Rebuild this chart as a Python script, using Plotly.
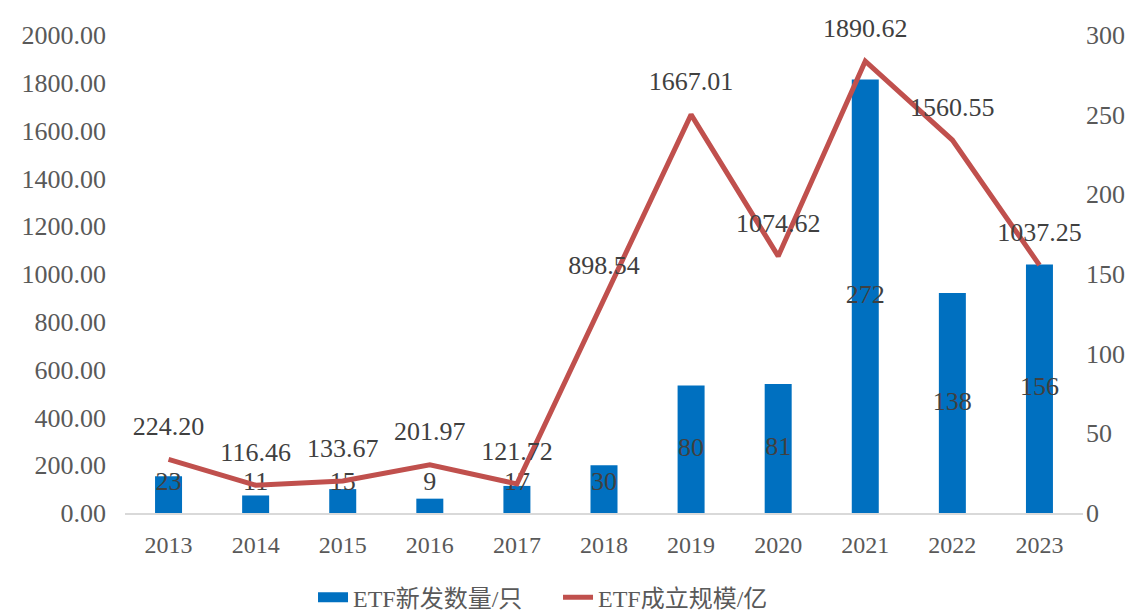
import plotly.graph_objects as go
import numpy as np

years = ["2013", "2014", "2015", "2016", "2017", "2018", "2019", "2020", "2021", "2022", "2023"]
etf_count = [23, 11, 15, 9, 17, 30, 80, 81, 272, 138, 156]
etf_scale = [224.20, 116.46, 133.67, 201.97, 121.72, 898.54, 1667.01, 1074.62, 1890.62, 1560.55, 1037.25]

count_name = "ETF新发数量/只"
scale_name = "ETF成立规模/亿"

FONT = "Liberation Serif, Noto Sans CJK SC, serif"
TXT = "#595959"
BLUE = "#0070C0"
RED = "#C0504D"

fig = go.Figure()

fig.add_trace(go.Bar(
    x=years, y=etf_count, name=count_name, marker=dict(color=BLUE, line=dict(width=0)),
    width=0.31, yaxis="y", showlegend=False,
))

# legend entry for the bars, drawn as a wide block like the original
fig.add_trace(go.Scatter(
    x=[None], y=[None], mode="lines", name=count_name,
    line=dict(color=BLUE, width=13), yaxis="y", showlegend=True,
))

# bar value labels, centred in bars but lifted above the axis for short bars
label_y = np.maximum(np.array(etf_count) / 2.0, 18.5)
fig.add_trace(go.Scatter(
    x=years, y=label_y, mode="text", text=[str(v) for v in etf_count],
    textposition="middle center", textfont=dict(family=FONT, size=26, color="#404040"),
    yaxis="y", showlegend=False, hoverinfo="skip", cliponaxis=False,
))

fig.add_trace(go.Scatter(
    x=years, y=etf_scale, name=scale_name, mode="lines+markers+text",
    line=dict(color=RED, width=5),
    marker=dict(size=27, color="rgba(0,0,0,0)"),
    text=[f"{v:.2f}" for v in etf_scale], textposition="top center",
    textfont=dict(family=FONT, size=26, color="#404040"),
    yaxis="y2", cliponaxis=False,
))

fig.update_layout(
    width=1140, height=603,
    margin=dict(l=117, r=65, t=27, b=98, autoexpand=False),
    paper_bgcolor="white", plot_bgcolor="white",
    font=dict(family=FONT, color=TXT, size=24),
    xaxis=dict(
        type="category", range=[-0.5, 10.5], showgrid=False, showline=True,
        linecolor="#D9D9D9", linewidth=1.5,
        tickfont=dict(family=FONT, size=24, color=TXT), ticks="", ticklabelstandoff=9,
        automargin=False,
    ),
    yaxis=dict(
        side="right", range=[0, 300], dtick=50, showgrid=False, showline=False,
        zeroline=False, tickfont=dict(family=FONT, size=26, color=TXT), ticklabelstandoff=2,
        automargin=False,
    ),
    yaxis2=dict(
        side="left", overlaying="y", range=[0, 2000], dtick=200, tickformat=".2f",
        showgrid=False, showline=False, zeroline=False,
        tickfont=dict(family=FONT, size=26, color=TXT), ticklabelstandoff=18,
        automargin=False,
    ),
    legend=dict(
        orientation="h", x=0.452, xanchor="center", y=-0.13, yanchor="top",
        font=dict(family=FONT, size=24, color=TXT), entrywidth=200,
        traceorder="normal",
    ),
    showlegend=True,
)

fig.write_html("out.html")
